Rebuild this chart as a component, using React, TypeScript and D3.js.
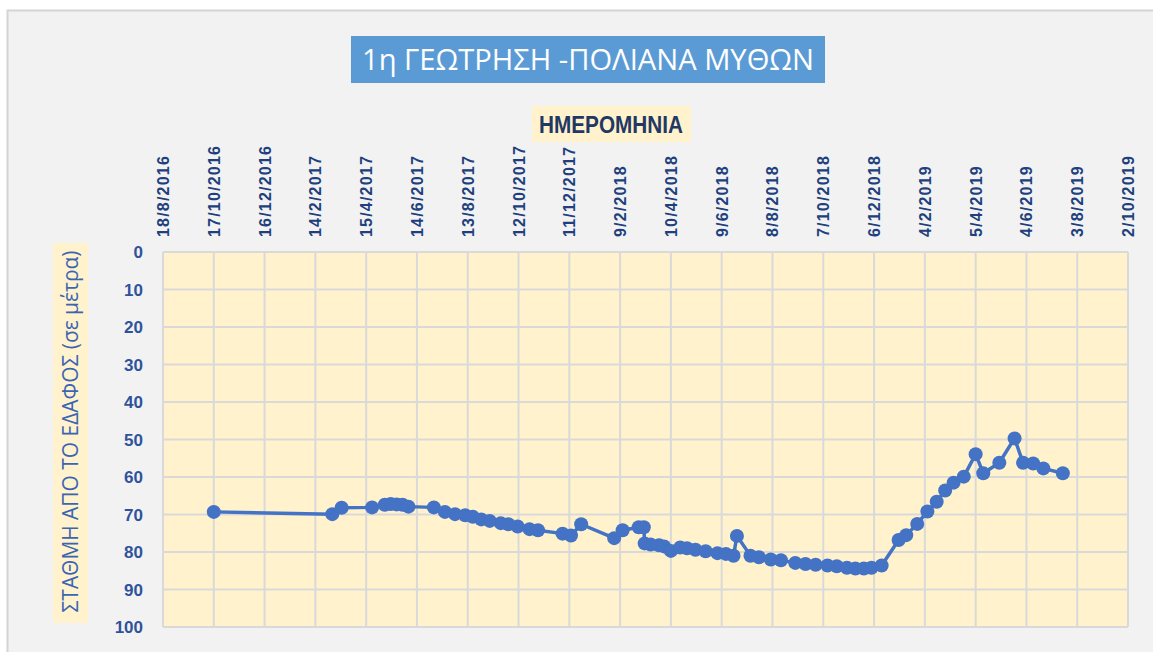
import * as d3 from 'd3';

const W = 1153,
  H = 652;
// plot area
const PLOT = { left: 163, right: 1128, top: 252, bottom: 627 };

// x axis tick labels (every 60 days)
const xTickDates = [
  '2016-08-18', '2016-10-17', '2016-12-16', '2017-02-14', '2017-04-15',
  '2017-06-14', '2017-08-13', '2017-10-12', '2017-12-11', '2018-02-09',
  '2018-04-10', '2018-06-09', '2018-08-08', '2018-10-07', '2018-12-06',
  '2019-02-04', '2019-04-05', '2019-06-04', '2019-08-03', '2019-10-02',
];
const yTicks = [0, 10, 20, 30, 40, 50, 60, 70, 80, 90, 100];

// measurement dates and water level below ground (m)
const dates = [
  '2016-10-17', '2017-03-06', '2017-03-17', '2017-04-22', '2017-05-07',
  '2017-05-14', '2017-05-21', '2017-05-28', '2017-06-04', '2017-07-04',
  '2017-07-17', '2017-07-29', '2017-08-10', '2017-08-19', '2017-08-29',
  '2017-09-08', '2017-09-21', '2017-09-30', '2017-10-11', '2017-10-25',
  '2017-11-04', '2017-12-03', '2017-12-13', '2017-12-25', '2018-02-02',
  '2018-02-12', '2018-03-03', '2018-03-09', '2018-03-10', '2018-03-17',
  '2018-03-27', '2018-04-02', '2018-04-10', '2018-04-21', '2018-04-29',
  '2018-05-09', '2018-05-21', '2018-06-04', '2018-06-14', '2018-06-23',
  '2018-06-27', '2018-07-13', '2018-07-23', '2018-08-06', '2018-08-18',
  '2018-09-04', '2018-09-16', '2018-09-28', '2018-10-12', '2018-10-23',
  '2018-11-04', '2018-11-14', '2018-11-24', '2018-12-03', '2018-12-15',
  '2019-01-04', '2019-01-13', '2019-01-26', '2019-02-07', '2019-02-18',
  '2019-02-28', '2019-03-10', '2019-03-22', '2019-04-05', '2019-04-14',
  '2019-05-03', '2019-05-21', '2019-05-31', '2019-06-12', '2019-06-24',
  '2019-07-17',
];
const levels = [
  69.3, 69.9, 68.2, 68.1, 67.4,
  67.2, 67.3, 67.4, 67.9, 68.1,
  69.3, 69.9, 70.2, 70.6, 71.3,
  71.7, 72.3, 72.6, 73.2, 73.9,
  74.2, 75.1, 75.6, 72.6, 76.3,
  74.2, 73.4, 73.4, 77.7, 78.0,
  78.2, 78.5, 79.7, 78.8, 79.0,
  79.4, 79.8, 80.3, 80.5, 81.0,
  75.7, 81.0, 81.4, 82.0, 82.2,
  82.9, 83.2, 83.4, 83.6, 83.8,
  84.2, 84.4, 84.4, 84.2, 83.6,
  76.8, 75.5, 72.5, 69.2, 66.6,
  63.6, 61.5, 59.9, 53.9, 59.0,
  56.2, 49.7, 56.2, 56.4, 57.7,
  59.0,
];

const parse = d3.utcParse('%Y-%m-%d');
const fmt = d3.utcFormat('%-d/%-m/%Y');

export default function App() {
  const ticks = xTickDates.map(s => parse(s) as Date);
  const xScale = d3
    .scaleUtc()
    .domain([ticks[0], ticks[ticks.length - 1]])
    .range([PLOT.left, PLOT.right]);
  const yScale = d3.scaleLinear().domain([0, 100]).range([PLOT.top, PLOT.bottom]);

  const points = dates.map((d, i) => ({ date: parse(d) as Date, value: levels[i] }));
  const line = d3
    .line<{ date: Date; value: number }>()
    .x(d => xScale(d.date))
    .y(d => yScale(d.value));

  return (
    <div style={{ position: 'absolute', left: 0, top: 0 }}>
      <svg width={W} height={H} style={{ display: 'block', background: '#ffffff' }}>
        {/* chart area */}
        <rect x={7.5} y={10.5} width={W + 10} height={H} fill="#f2f2f2" stroke="#d4d4d4" strokeWidth={2} />

        {/* title */}
        <rect x={351} y={36} width={474} height={47} fill="#5b9bd5" />
        <text
          x={588}
          y={70}
          textAnchor="middle"
          fontFamily="'Open Sans', 'Noto Sans', sans-serif"
          fontSize={30}
          fill="#ffffff"
          textLength={452}
          lengthAdjust="spacingAndGlyphs"
        >
          1η ΓΕΩΤΡΗΣΗ -ΠΟΛΙΑΝΑ ΜΥΘΩΝ
        </text>

        {/* x axis title */}
        <rect x={532} y={106} width={159} height={36} fill="#fff2cc" />
        <text
          x={611}
          y={133}
          textAnchor="middle"
          fontFamily="'Liberation Sans', Arial, sans-serif"
          fontWeight="bold"
          fontSize={23}
          fill="#1f3864"
          textLength={144}
          lengthAdjust="spacingAndGlyphs"
        >
          ΗΜΕΡΟΜΗΝΙΑ
        </text>

        {/* y axis title */}
        <rect x={53} y={243} width={35} height={380} fill="#fff2cc" />
        <text
          transform={`translate(78,${(250 + 613) / 2}) rotate(-90)`}
          textAnchor="middle"
          fontFamily="'Open Sans', 'Noto Sans', sans-serif"
          fontSize={21}
          fill="#3a65b5"
          textLength={362}
          lengthAdjust="spacingAndGlyphs"
        >
          ΣΤΑΘΜΗ ΑΠΟ ΤΟ ΕΔΑΦΟΣ (σε μέτρα)
        </text>

        {/* plot area */}
        <rect
          x={PLOT.left}
          y={PLOT.top}
          width={PLOT.right - PLOT.left}
          height={PLOT.bottom - PLOT.top}
          fill="#fff2cc"
        />
        {yTicks.map(t => (
          <line
            key={'h' + t}
            x1={PLOT.left}
            x2={PLOT.right}
            y1={yScale(t)}
            y2={yScale(t)}
            stroke="#d9d9d9"
            strokeWidth={2}
          />
        ))}
        {ticks.map((t, i) => (
          <line
            key={'v' + i}
            x1={xScale(t)}
            x2={xScale(t)}
            y1={PLOT.top}
            y2={PLOT.bottom}
            stroke="#d9d9d9"
            strokeWidth={2}
          />
        ))}

        {/* y tick labels */}
        {yTicks.map(t => (
          <text
            key={'yl' + t}
            x={143}
            y={yScale(t) + 6}
            textAnchor="end"
            fontFamily="'Liberation Sans', Arial, sans-serif"
            fontWeight="bold"
            fontSize={17}
            fill="#2f529c"
          >
            {t}
          </text>
        ))}

        {/* x tick labels */}
        {ticks.map((t, i) => (
          <text
            key={'xl' + i}
            transform={`translate(${xScale(t) + 6},237) rotate(-90)`}
            textAnchor="start"
            fontFamily="'Liberation Sans', Arial, sans-serif"
            fontWeight="bold"
            fontSize={16}
            letterSpacing={1.2}
            fill="#203f7c"
          >
            {fmt(t)}
          </text>
        ))}

        {/* series */}
        <path d={line(points) ?? ''} fill="none" stroke="#4472c4" strokeWidth={3.5} />
        {points.map((p, i) => (
          <circle key={i} cx={xScale(p.date)} cy={yScale(p.value)} r={7} fill="#4472c4" />
        ))}
      </svg>
    </div>
  );
}
